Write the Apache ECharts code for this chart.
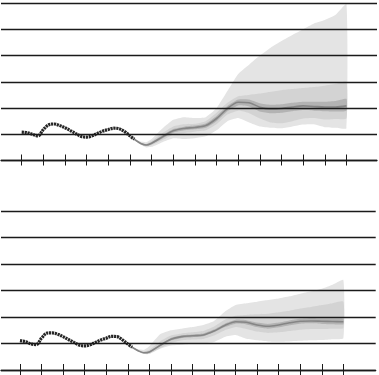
<!DOCTYPE html>
<html><head><meta charset="utf-8">
<script src="https://cdn.jsdelivr.net/npm/echarts@6/dist/echarts.min.js"></script>
<style>html,body{margin:0;padding:0;background:#fff}#c{width:379px;height:375px}</style>
</head><body><div id="c"></div><script>
// tick positions (years since start of history)
const tickYears = [0,1,2,3,4,5,6,7,8,9,10,11,12,13,14,15];

// observed history
const obsT      = [0,0.25,0.5,0.75,1,1.25,1.5,1.75,2,2.25,2.5,2.75,3,3.25,3.5,3.75,4,4.25,4.5,4.75,5,5.2];
const obsTop    = [1.08,1.06,1.00,0.94,1.18,1.36,1.39,1.33,1.25,1.14,1.02,0.92,0.89,0.94,1.03,1.12,1.18,1.23,1.21,1.10,0.94,0.81];
const obsBottom = [1.11,1.07,0.99,0.96,1.20,1.39,1.40,1.35,1.26,1.15,1.04,0.94,0.91,0.95,1.04,1.13,1.20,1.27,1.26,1.14,0.98,0.86];

// forecast
const fcT = [5.2,5.5,5.75,6,6.5,7,7.5,8,8.5,9,9.5,10,10.5,11,11.5,12,12.5,13,13.5,14,14.5,15];

const topMedian  = [0.81,0.65,0.59,0.66,0.90,1.13,1.22,1.26,1.33,1.60,1.98,2.22,2.20,2.03,1.96,1.98,2.04,2.08,2.06,2.04,2.04,2.08];
const topOuterHi = [0.81,0.72,0.70,0.82,1.22,1.55,1.65,1.62,1.65,2.00,2.65,3.30,3.65,4.00,4.30,4.55,4.78,5.00,5.22,5.35,5.55,5.95];
const topOuterLo = [0.81,0.60,0.50,0.52,0.70,0.85,0.82,0.85,0.92,1.15,1.50,1.62,1.45,1.30,1.25,1.23,1.30,1.37,1.38,1.27,1.25,1.23];
const topMidHi   = [0.81,0.68,0.64,0.74,1.05,1.30,1.38,1.40,1.50,1.82,2.20,2.45,2.50,2.55,2.62,2.68,2.72,2.76,2.80,2.85,2.92,3.00];
const topMidLo   = [0.81,0.62,0.54,0.58,0.78,0.98,1.05,1.10,1.15,1.38,1.75,1.90,1.80,1.60,1.45,1.42,1.50,1.60,1.62,1.56,1.58,1.60];
const topInHi    = [0.81,0.67,0.62,0.70,0.96,1.20,1.29,1.33,1.41,1.70,2.08,2.32,2.32,2.18,2.12,2.14,2.20,2.24,2.24,2.24,2.27,2.35];
const topInLo    = [0.81,0.63,0.56,0.62,0.84,1.06,1.15,1.19,1.25,1.50,1.88,2.10,2.06,1.87,1.80,1.82,1.88,1.92,1.90,1.88,1.87,1.90];

const botMedian  = [0.86,0.72,0.65,0.68,0.93,1.16,1.26,1.29,1.32,1.47,1.68,1.82,1.80,1.70,1.65,1.70,1.78,1.84,1.85,1.84,1.83,1.82];
const botOuterHi = [0.86,0.78,0.76,0.90,1.35,1.50,1.56,1.62,1.70,1.85,2.20,2.45,2.52,2.58,2.64,2.70,2.78,2.88,2.97,3.07,3.22,3.40];
const botOuterLo = [0.86,0.68,0.60,0.60,0.80,0.92,0.95,1.00,1.01,1.06,1.25,1.32,1.18,1.12,1.08,1.07,1.08,1.10,1.12,1.13,1.16,1.20];
const botMidHi   = [0.86,0.75,0.70,0.76,1.08,1.30,1.38,1.42,1.47,1.64,1.90,2.05,2.08,2.10,2.12,2.18,2.24,2.32,2.38,2.45,2.52,2.58];
const botMidLo   = [0.86,0.70,0.61,0.62,0.82,1.02,1.12,1.15,1.17,1.30,1.50,1.62,1.55,1.45,1.40,1.42,1.47,1.52,1.55,1.55,1.56,1.58];
const botInHi    = [0.86,0.74,0.67,0.71,0.97,1.21,1.31,1.34,1.38,1.53,1.75,1.90,1.88,1.79,1.74,1.79,1.87,1.93,1.95,1.94,1.94,1.93];
const botInLo    = [0.86,0.70,0.63,0.65,0.89,1.11,1.21,1.24,1.27,1.42,1.62,1.75,1.72,1.62,1.56,1.61,1.69,1.75,1.76,1.74,1.73,1.72];

const pairs = (xs, ys) => xs.map((x, i) => [x, ys[i]]);

// fan band drawn as a polygon through the axis scales
function band(g, lo, hi, color) {
  const ax = g * 2;
  return {
    type: 'custom', xAxisIndex: ax, yAxisIndex: g, silent: true, z: 2,
    data: fcT.map((x, i) => [x, lo[i], hi[i]]),
    encode: { x: 0, y: [1, 2] },
    renderItem: function (params, api) {
      if (params.dataIndex !== 0) return null;
      const top = fcT.map((x, i) => api.coord([x, hi[i]]));
      const bot = fcT.map((x, i) => api.coord([x, lo[i]])).reverse();
      return {
        type: 'polygon',
        shape: { points: top.concat(bot), smooth: 0.15 },
        style: { fill: color, stroke: null }
      };
    }
  };
}

function panelSeries(g, s) {
  const ax = g * 2;
  return [
    band(g, s.outerLo, s.outerHi, '#e4e4e4'),
    band(g, s.midLo, s.midHi, '#d3d3d3'),
    band(g, s.inLo, s.inHi, '#b3b3b3'),
    { type: 'line', xAxisIndex: ax, yAxisIndex: g, data: pairs(fcT, s.median), symbol: 'none', smooth: 0.3,
      lineStyle: { color: '#858585', width: 1.6 }, z: 3 },
    { type: 'line', xAxisIndex: ax, yAxisIndex: g, data: pairs(obsT, s.obs), symbol: 'none', smooth: 0.35,
      lineStyle: { color: '#262626', width: 3.2, type: [2.2, 0.7] }, z: 4 }
  ];
}

const grids = [
  { left: 1, top: 3, width: 376, height: 157.5 },
  { left: 1, top: 211, width: 374.7, height: 159 }
];
const xRanges = [[-0.956, 16.41], [-0.88, 16.5]];

const xAxes = [];
xRanges.forEach((r, g) => {
  xAxes.push({ type: 'value', gridIndex: g, min: r[0], max: r[1], position: 'bottom',
    axisLine: { show: true, lineStyle: { color: '#1a1a1a', width: 1.3 } },
    axisTick: { show: true, inside: false, length: 5, customValues: tickYears, lineStyle: { color: '#1a1a1a', width: 1 } },
    axisLabel: { show: false }, splitLine: { show: false }, z: 10 });
  xAxes.push({ type: 'value', gridIndex: g, min: r[0], max: r[1], position: 'bottom',
    axisLine: { show: false },
    axisTick: { show: true, inside: true, length: 6, customValues: tickYears, lineStyle: { color: '#1a1a1a', width: 1 } },
    axisLabel: { show: false }, splitLine: { show: false }, z: 10 });
});

const yAxes = [0, 1].map(g => ({ type: 'value', gridIndex: g, min: 0, max: 6, interval: 1,
  axisLine: { show: false }, axisTick: { show: false }, axisLabel: { show: false },
  splitLine: { show: true, lineStyle: { color: '#1a1a1a', width: 1.3 } }, z: 10 }));

const chart = echarts.init(document.getElementById('c'), null, { renderer: 'canvas' });
chart.setOption({
  animation: false,
  backgroundColor: '#fff',
  grid: grids,
  xAxis: xAxes,
  yAxis: yAxes,
  series: [
    ...panelSeries(0, { outerLo: topOuterLo, outerHi: topOuterHi, midLo: topMidLo, midHi: topMidHi,
      inLo: topInLo, inHi: topInHi, median: topMedian, obs: obsTop }),
    ...panelSeries(1, { outerLo: botOuterLo, outerHi: botOuterHi, midLo: botMidLo, midHi: botMidHi,
      inLo: botInLo, inHi: botInHi, median: botMedian, obs: obsBottom })
  ]
});
</script></body></html>
